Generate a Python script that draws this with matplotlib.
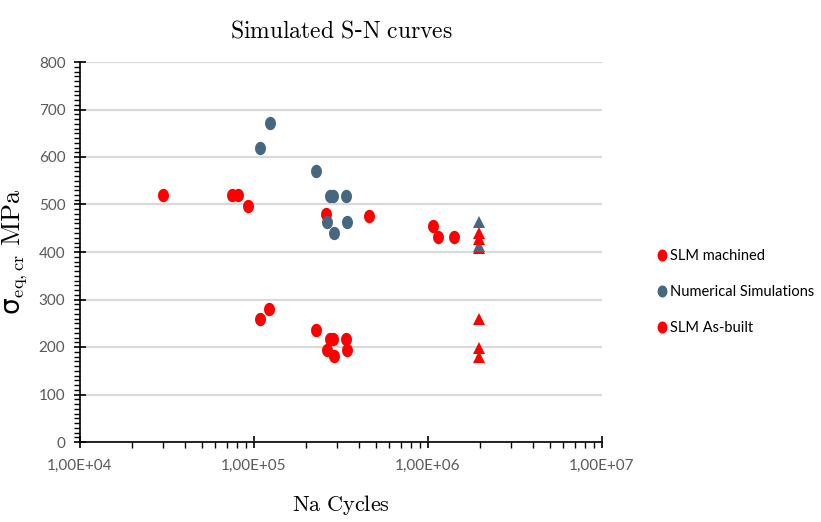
import numpy as np
import matplotlib
matplotlib.use("Agg")
import matplotlib.pyplot as plt
from matplotlib.path import Path
from matplotlib.ticker import FixedLocator, FuncFormatter, LogLocator, MultipleLocator, NullFormatter

plt.rcParams['mathtext.fontset'] = 'cm'

# ---- data ----
machined_N = [29800, 74500, 80500, 92700, 259000, 456000, 1070000, 1145000, 1410000]
machined_S = [520, 520, 520, 497, 479, 476, 455, 432, 432]

sim_N = [108700, 123600, 228000, 273000, 286000, 336000, 262000, 344000, 288000]
sim_S = [620, 672, 570, 518, 518, 518, 464, 464, 439]

asbuilt_N = [108000, 122500, 227000, 273000, 286000, 336000, 262000, 344000, 288000]
asbuilt_S = [259, 279, 236, 216, 216, 216, 194, 194, 182]

runout_sim_N = [1960000, 1960000]
runout_sim_S = [463, 412]
runout_machined_N = [1960000, 1960000]
runout_machined_S = [440, 428]
runout_asbuilt_N = [1960000, 1960000, 1960000, 1960000]
runout_asbuilt_S = [408, 258, 198, 180]

x_ticks = [1e4, 1e5, 1e6, 1e7]
y_ticks = [0, 100, 200, 300, 400, 500, 600, 700, 800]

RED = '#FF0000'
BLUE = '#46677F'
TICKC = '#595959'
SANS = ['Lato', 'DejaVu Sans']

# tall ellipse marker
t = np.linspace(0, 2 * np.pi, 60)
ell = Path(np.column_stack([0.82 * np.cos(t), np.sin(t)]))

W, H = 821, 522
fig = plt.figure(figsize=(W / 100, H / 100), dpi=100)
ax = fig.add_axes([80 / W, 1 - 442 / H, 522 / W, 380 / H])

ms = 9.6
ax.plot(machined_N, machined_S, linestyle='none', marker=ell, ms=ms, color=RED, mec=RED, mew=0, label='SLM machined', zorder=3)
ax.plot(sim_N, sim_S, linestyle='none', marker=ell, ms=ms, color=BLUE, mec=BLUE, mew=0, label='Numerical Simulations', zorder=4)
ax.plot(asbuilt_N, asbuilt_S, linestyle='none', marker=ell, ms=ms, color=RED, mec=RED, mew=0, label='SLM As-built', zorder=3)

tms = 8.5
ax.plot(runout_asbuilt_N, runout_asbuilt_S, linestyle='none', marker='^', ms=tms, color=RED, mew=0, zorder=3)
ax.plot(runout_sim_N, runout_sim_S, linestyle='none', marker='^', ms=tms, color=BLUE, mew=0, zorder=4)
ax.plot(runout_machined_N, runout_machined_S, linestyle='none', marker='^', ms=tms, color=RED, mew=0, zorder=5)

ax.set_xscale('log')
ax.set_xlim(1e4, 1e7)
ax.set_ylim(0, 800)

ax.xaxis.set_major_locator(FixedLocator(x_ticks))
ax.xaxis.set_minor_locator(LogLocator(base=10, subs=np.arange(2, 10)))
ax.xaxis.set_minor_formatter(NullFormatter())
ax.xaxis.set_major_formatter(FuncFormatter(lambda v, p: ('%.2E' % v).replace('.', ',')))
ax.yaxis.set_major_locator(FixedLocator(y_ticks))
ax.yaxis.set_minor_locator(MultipleLocator(10))

for s in ['top', 'right']:
    ax.spines[s].set_visible(False)
for s in ['left', 'bottom']:
    ax.spines[s].set_linewidth(1.2)
    ax.spines[s].set_color('black')

ax.tick_params(axis='both', which='major', direction='inout', length=9, width=1.2, color='black',
               labelcolor=TICKC, labelsize=11)
ax.tick_params(axis='both', which='minor', direction='out', length=4, width=1.0, color='black')
ax.tick_params(axis='y', which='major', pad=6)
ax.tick_params(axis='x', which='major', pad=8)
for lab in ax.get_xticklabels() + ax.get_yticklabels():
    lab.set_family(SANS)

ax.yaxis.grid(True, which='major', color='#D9D9D9', linewidth=1.6)
ax.set_axisbelow(True)

ax.set_title(r'$\mathrm{Simulated\ S}$-$\mathrm{N\ curves}$', fontsize=17, pad=18)
ax.set_xlabel(r'$\mathrm{Na\ Cycles}$', fontsize=16, labelpad=14)
ax.set_ylabel(r'σ$_{\mathrm{eq,cr}}\ \mathrm{MPa}$', fontsize=19, family=['DejaVu Sans'])
ax.yaxis.set_label_coords(-(80 - 30) / 522, 0.5)

leg = fig.legend(loc='center left', bbox_to_anchor=(644 / W, 1 - 292 / H), frameon=False,
                 handlelength=0.6, handletextpad=0.3, labelspacing=1.5, markerscale=0.9,
                 prop={'family': SANS, 'size': 10.5})

fig.savefig('out.png', dpi=100)
